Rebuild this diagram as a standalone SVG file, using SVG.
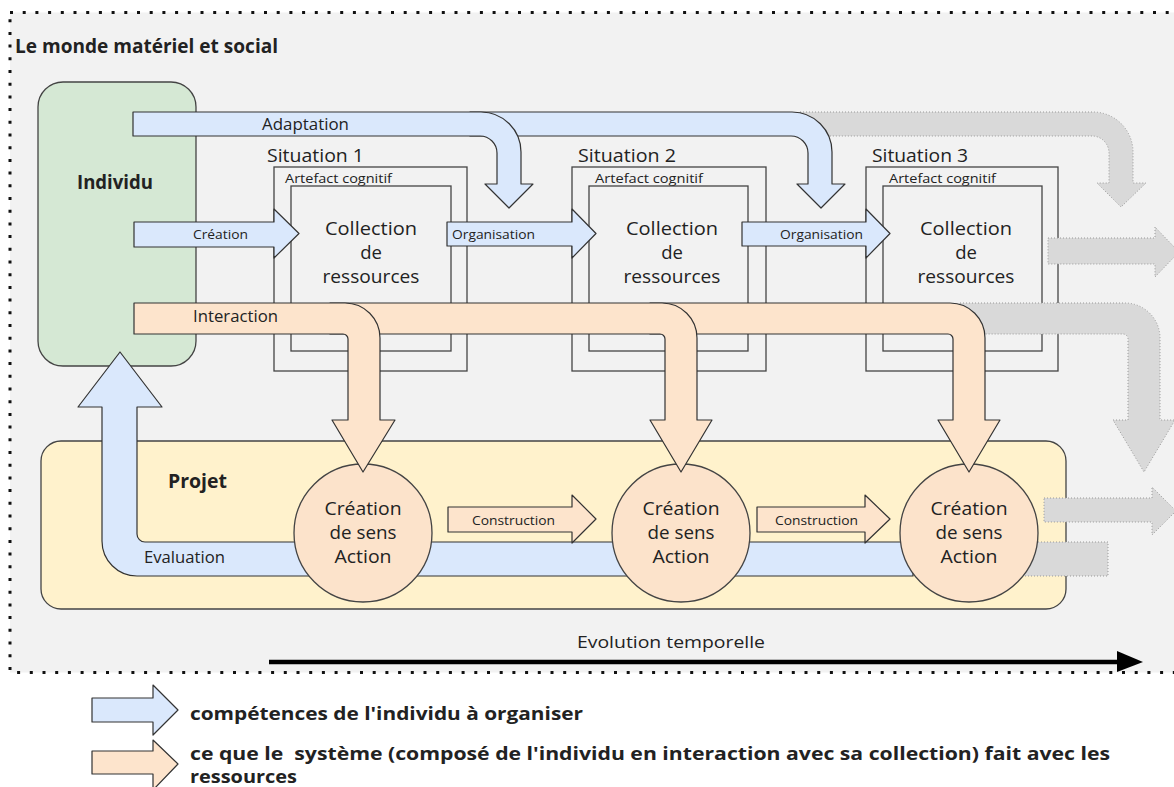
<svg xmlns="http://www.w3.org/2000/svg" width="1174" height="787" viewBox="0 0 1174 787">
  <style>
    text { font-family: "Open Sans", "Noto Sans", "DejaVu Sans", sans-serif; fill: #222; }
    .bold { font-weight: bold; }
    .box { fill: none; stroke: #444; stroke-width: 1.3; }
    .blue { fill: #dae8fc; stroke: #333; stroke-width: 1.2; stroke-linejoin: round; }
    .orange { fill: #fde4cc; stroke: #333; stroke-width: 1.2; stroke-linejoin: round; }
    .ghost { fill: #d9d9d9; stroke: #999; stroke-width: 1; stroke-dasharray: 1 2; }
    .sit { font-size: 19px; }
    .art { font-size: 13.5px; }
    .coll { font-size: 18.5px; text-anchor: middle; }
    .lbl { font-size: 13.5px; }
    .lbl15 { font-size: 15.5px; }
    .leg { font-size: 17px; font-weight: bold; }
  </style>

  <!-- world frame -->
  <g id="world">
    <rect x="10" y="12.5" width="1180" height="660" fill="#f2f2f2" stroke="#111" stroke-width="3" stroke-dasharray="3 9.7"/>
    <text x="15" y="53" class="bold" font-size="19.5" textLength="263" lengthAdjust="spacingAndGlyphs">Le monde matériel et social</text>
  </g>

  <!-- the individual -->
  <g id="individu">
    <rect x="38" y="82" width="158" height="284" rx="25" fill="#d5e8d4" stroke="#444" stroke-width="1.3"/>
    <text x="115" y="189" class="bold" font-size="19" text-anchor="middle" textLength="76" lengthAdjust="spacingAndGlyphs">Individu</text>
  </g>

  <!-- situations -->
  <g id="situation1">
    <text x="267" y="162" class="sit" textLength="97" lengthAdjust="spacingAndGlyphs">Situation 1</text>
    <rect x="274" y="167" width="193" height="204" class="box"/>
    <text x="285" y="183" class="art" textLength="107" lengthAdjust="spacingAndGlyphs">Artefact cognitif</text>
    <rect x="291" y="186" width="160" height="165" class="box"/>
    <text class="coll"><tspan x="371" y="235" textLength="92" lengthAdjust="spacingAndGlyphs">Collection</tspan><tspan x="371" y="259">de</tspan><tspan x="371" y="283" textLength="97" lengthAdjust="spacingAndGlyphs">ressources</tspan></text>
  </g>
  <g id="situation2">
    <text x="578" y="162" class="sit" textLength="98" lengthAdjust="spacingAndGlyphs">Situation 2</text>
    <rect x="572" y="167" width="194" height="204" class="box"/>
    <text x="595" y="183" class="art" textLength="108" lengthAdjust="spacingAndGlyphs">Artefact cognitif</text>
    <rect x="589" y="186" width="159" height="165" class="box"/>
    <text class="coll"><tspan x="672" y="235" textLength="92" lengthAdjust="spacingAndGlyphs">Collection</tspan><tspan x="672" y="259">de</tspan><tspan x="672" y="283" textLength="97" lengthAdjust="spacingAndGlyphs">ressources</tspan></text>
  </g>
  <g id="situation3">
    <text x="872" y="162" class="sit" textLength="96" lengthAdjust="spacingAndGlyphs">Situation 3</text>
    <rect x="866" y="167" width="192" height="204" class="box"/>
    <text x="889" y="183" class="art" textLength="107" lengthAdjust="spacingAndGlyphs">Artefact cognitif</text>
    <rect x="883" y="186" width="159" height="165" class="box"/>
    <text class="coll"><tspan x="966" y="235" textLength="92" lengthAdjust="spacingAndGlyphs">Collection</tspan><tspan x="966" y="259">de</tspan><tspan x="966" y="283" textLength="97" lengthAdjust="spacingAndGlyphs">ressources</tspan></text>
  </g>

  <!-- project -->
  <g id="projet">
    <rect x="41" y="441" width="1025" height="168" rx="20" fill="#fff2cc" stroke="#444" stroke-width="1.3"/>
    <text x="168" y="488" class="bold" font-size="19" textLength="59" lengthAdjust="spacingAndGlyphs">Projet</text>
  </g>

  <g id="connectors">
    <!-- evaluation loop back to the individual -->
    <path class="ghost" d="M1020,542 H1108 V576 H1020 Z"/>
    <path class="blue" d="M913,542 H145 A8,8 0 0 1 137,534 V407 H162 L120,352 L78,407 H102 V541 A35,35 0 0 0 137,576 H913 Z"/>
    <text x="144" y="563" class="lbl15" textLength="81" lengthAdjust="spacingAndGlyphs">Evaluation</text>
  </g>

  <!-- sense-making nodes -->
  <g id="action1">
    <circle cx="363" cy="533" r="69" fill="#fce3cb" stroke="#444" stroke-width="1.3"/>
    <text class="coll"><tspan x="363" y="515" textLength="77" lengthAdjust="spacingAndGlyphs">Création</tspan><tspan x="363" y="539" textLength="67" lengthAdjust="spacingAndGlyphs">de sens</tspan><tspan x="363" y="563" textLength="57" lengthAdjust="spacingAndGlyphs">Action</tspan></text>
  </g>
  <g id="action2">
    <circle cx="681" cy="533" r="69" fill="#fce3cb" stroke="#444" stroke-width="1.3"/>
    <text class="coll"><tspan x="681" y="515" textLength="77" lengthAdjust="spacingAndGlyphs">Création</tspan><tspan x="681" y="539" textLength="67" lengthAdjust="spacingAndGlyphs">de sens</tspan><tspan x="681" y="563" textLength="57" lengthAdjust="spacingAndGlyphs">Action</tspan></text>
  </g>
  <g id="action3">
    <circle cx="969" cy="533" r="69" fill="#fce3cb" stroke="#444" stroke-width="1.3"/>
    <text class="coll"><tspan x="969" y="515" textLength="77" lengthAdjust="spacingAndGlyphs">Création</tspan><tspan x="969" y="539" textLength="67" lengthAdjust="spacingAndGlyphs">de sens</tspan><tspan x="969" y="563" textLength="57" lengthAdjust="spacingAndGlyphs">Action</tspan></text>
  </g>

  <g id="flows">
    <!-- adaptation -->
    <path class="ghost" d="M800,112 H1093 A40,40 0 0 1 1133,152 V183 H1146 L1121,207 L1097,183 H1109 V153 A17,17 0 0 0 1092,136 H800 Z"/>
    <path class="blue" d="M470,112 H792 A40,40 0 0 1 832,152 V184 H845 L821,208 L797,184 H808 V153 A17,17 0 0 0 791,136 H470 Z"/>
    <path class="blue" d="M133,112 H481 A40,40 0 0 1 521,152 V184 H533 L509,208 L485,184 H497 V153 A17,17 0 0 0 480,136 H133 Z"/>
    <text x="262" y="130" class="lbl15" textLength="87" lengthAdjust="spacingAndGlyphs">Adaptation</text>

    <!-- creation / organisation -->
    <path class="blue" d="M134,222 H274 V209 L299,233.5 L274,258 V247 H134 Z"/>
    <text x="193" y="239" class="lbl" textLength="55" lengthAdjust="spacingAndGlyphs">Création</text>
    <path class="blue" d="M447,222 H572 V209 L596,233.5 L572,258 V246 H447 Z"/>
    <text x="452" y="239" class="lbl" textLength="83" lengthAdjust="spacingAndGlyphs">Organisation</text>
    <path class="blue" d="M742,222 H866 V209 L890,233.5 L866,258 V246 H742 Z"/>
    <text x="780" y="239" class="lbl" textLength="83" lengthAdjust="spacingAndGlyphs">Organisation</text>
    <path class="ghost" d="M1048,238 H1155 V227 L1179,252 L1155,277 V264 H1048 Z"/>

    <!-- interaction -->
    <path class="ghost" d="M960,303 H1125 A35,35 0 0 1 1160,338 V420 H1175 L1144,472 L1113,420 H1128 V339 A5,5 0 0 0 1123,334 H960 Z"/>
    <path class="orange" d="M650,303 H950 A35,35 0 0 1 985,338 V420 H1000 L969,472 L938,420 H953 V339 A5,5 0 0 0 948,334 H650 Z"/>
    <path class="orange" d="M330,303 H662 A35,35 0 0 1 697,338 V420 H712 L681,472 L650,420 H665 V339 A5,5 0 0 0 660,334 H330 Z"/>
    <path class="orange" d="M134,303 H345 A35,35 0 0 1 380,338 V420 H395 L363,472 L332,420 H348 V339 A5,5 0 0 0 343,334 H134 Z"/>
    <text x="193" y="322" class="lbl15" textLength="85" lengthAdjust="spacingAndGlyphs">Interaction</text>

    <!-- construction -->
    <path class="orange" d="M448,507 H572 V495 L596,519 L572,543 V532 H448 Z"/>
    <text x="472" y="525" class="lbl" textLength="83" lengthAdjust="spacingAndGlyphs">Construction</text>
    <path class="orange" d="M757,507 H865 V495 L890,519 L865,543 V532 H757 Z"/>
    <text x="775" y="525" class="lbl" textLength="83" lengthAdjust="spacingAndGlyphs">Construction</text>
    <path class="ghost" d="M1044,498 H1152 V487 L1176,511 L1152,535 V522 H1044 Z"/>
  </g>

  <!-- time axis -->
  <g id="time">
    <text x="577" y="648" font-size="16.5" textLength="188" lengthAdjust="spacingAndGlyphs">Evolution temporelle</text>
    <line x1="269" y1="662" x2="1120" y2="662" stroke="#000" stroke-width="4.5"/>
    <path d="M1117,651 L1143,662 L1117,672 Z" fill="#000"/>
  </g>

  <!-- legend -->
  <g id="legend">
    <path class="blue" d="M92,698 H153 V685 L178,710 L153,735 V722 H92 Z"/>
    <text x="190" y="720" class="leg" textLength="393" lengthAdjust="spacingAndGlyphs">compétences de l'individu à organiser</text>
    <path class="orange" d="M92,751 H153 V740 L178,764 L153,790 V774 H92 Z"/>
    <text x="190" y="760" class="leg" xml:space="preserve" textLength="920" lengthAdjust="spacingAndGlyphs">ce que le  système (composé de l'individu en interaction avec sa collection) fait avec les</text>
    <text x="190" y="783" class="leg" textLength="107" lengthAdjust="spacingAndGlyphs">ressources</text>
  </g>
</svg>
